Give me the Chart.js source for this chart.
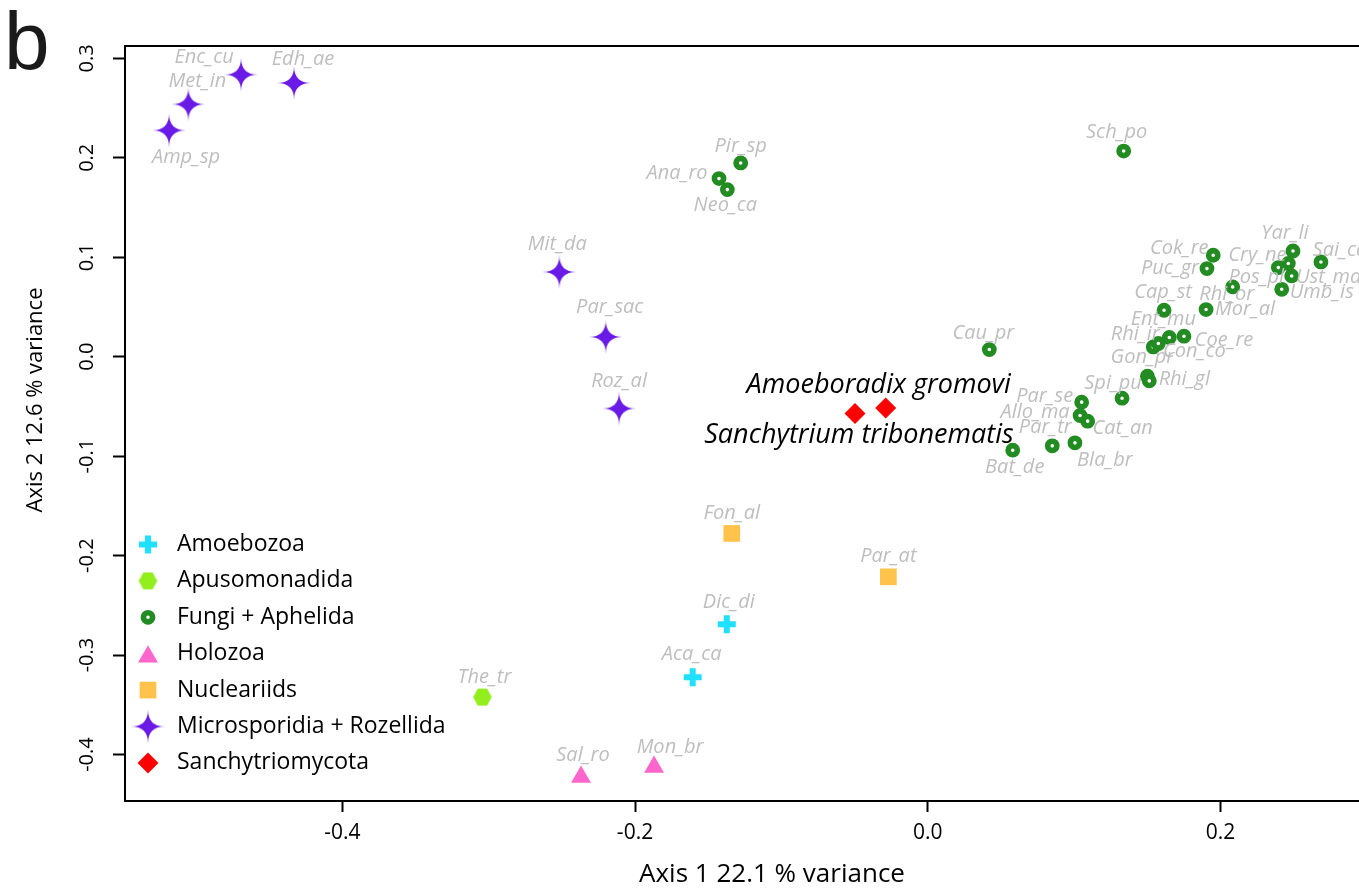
<!DOCTYPE html>
<html><head><meta charset="utf-8">
<script src="https://cdn.jsdelivr.net/npm/chart.js@4/dist/chart.umd.min.js"></script>
<style>
html,body{margin:0;padding:0;background:#fff;overflow:hidden;width:1359px;height:890px}
#wrap{position:absolute;left:0;top:0;width:1440px;height:890px}
</style>
</head><body><div id="wrap"><canvas id="c" width="1440" height="890"></canvas></div>
<script>
// ---------- data ----------
const groupNames = ['Amoebozoa','Apusomonadida','Fungi + Aphelida','Holozoa','Nucleariids','Microsporidia + Rozellida','Sanchytriomycota'];

const amoebozoaNames = ['Dic_di','Aca_ca'];
const amoebozoaX = [-0.1373,-0.1606];
const amoebozoaY = [-0.2691,-0.3224];

const apusNames = ['The_tr'];
const apusX = [-0.3043];
const apusY = [-0.3422];

const fungiNames = ['Sch_po','Pir_sp','Ana_ro','Neo_ca','Yar_li','Sai_ca','Cry_ne','Pos_pl','Ust_ma','Umb_is','Cok_re','Puc_gr','Rhi_or','Cap_st','Mor_al','Ent_mu','Coe_re','Rhi_ir','Con_co','Gon_pr','Rhi_gl','Spi_pu','Cau_pr','Par_se','Allo_ma','Cat_an','Par_tr','Bla_br','Bat_de'];
const fungiX = [0.1339,-0.1278,-0.1426,-0.1369,0.2496,0.2687,0.2396,0.2464,0.2487,0.2419,0.1951,0.1908,0.2084,0.1615,0.1902,0.1651,0.1751,0.1541,0.1576,0.1501,0.1514,0.1328,0.0421,0.1052,0.1041,0.1093,0.0851,0.1006,0.0581];
const fungiY = [0.2068,0.1948,0.1791,0.1680,0.1063,0.0953,0.0896,0.0937,0.0812,0.0678,0.1020,0.0886,0.0702,0.0467,0.0474,0.0193,0.0206,0.0098,0.0133,-0.0196,-0.0243,-0.0417,0.0072,-0.0457,-0.0591,-0.0648,-0.0896,-0.0866,-0.0940];

const holozoaNames = ['Sal_ro','Mon_br'];
const holozoaX = [-0.2369,-0.1870];
const holozoaY = [-0.4226,-0.4126];

const nucleariidNames = ['Fon_al','Par_at'];
const nucleariidX = [-0.1339,-0.0269];
const nucleariidY = [-0.1777,-0.2213];

const microNames = ['Amp_sp','Met_in','Enc_cu','Edh_ae','Mit_da','Par_sac','Roz_al'];
const microX = [-0.5184,-0.5052,-0.4692,-0.4330,-0.2517,-0.2200,-0.2109];
const microY = [0.2276,0.2538,0.2836,0.2752,0.0852,0.0199,-0.0521];

const sanchNames = ['Amoeboradix gromovi','Sanchytrium tribonematis'];
const sanchX = [-0.0287,-0.0497];
const sanchY = [-0.0515,-0.0571];

const xTicks = [-0.4,-0.2,0.0,0.2];
const yTicks = [-0.4,-0.3,-0.2,-0.1,0.0,0.1,0.2,0.3];
const xTitle = 'Axis 1 22.1 % variance';
const yTitle = 'Axis 2 12.6 % variance';

// ---------- label layout (pixel offsets of each text from its point) ----------
const labelOffsets = {
  'Dic_di':[2,-22],'Aca_ca':[-1,-23],'The_tr':[2,-20],
  'Sch_po':[-7,-19],'Pir_sp':[0,-17],'Ana_ro':[-42,-5],'Neo_ca':[-2,16],'Yar_li':[-8,-18],'Sai_ca':[19,-12],
  'Cry_ne':[-21,-12],'Pos_pl':[-32,14],'Ust_ma':[37,1],'Umb_is':[40,3],'Cok_re':[-34,-7],'Puc_gr':[-37,0],
  'Rhi_or':[-6,7],'Cap_st':[-1,-18],'Mor_al':[39,0],'Ent_mu':[-6,-18],'Coe_re':[40,4],'Rhi_ir':[-18,-13],
  'Con_co':[36,8],'Gon_pr':[-5,-19],'Rhi_gl':[35,-2],'Spi_pu':[-9,-15],'Cau_pr':[-6,-16],'Par_se':[-37,-6],
  'Allo_ma':[-45,-3],'Cat_an':[35,7],'Par_tr':[-7,-19],'Bla_br':[30,17],'Bat_de':[2,17],
  'Sal_ro':[2,-22],'Mon_br':[16,-20],'Fon_al':[0,-20],'Par_at':[0,-21],
  'Amp_sp':[17,27],'Met_in':[9,-23],'Enc_cu':[-37,-17],'Edh_ae':[9,-24],'Mit_da':[-2,-28],'Par_sac':[4,-30],'Roz_al':[0,-27],
  'Amoeboradix gromovi':[-7,-23],'Sanchytrium tribonematis':[4,22]
};

// ---------- marker images ----------
function makeStar(color, R){
  const s = Math.ceil(2*R+2), c = document.createElement('canvas');
  c.width = c.height = s;
  const g = c.getContext('2d');
  g.translate(s/2, s/2);
  g.beginPath();
  g.moveTo(0,-R);
  [[R,0],[0,R],[-R,0],[0,-R]].forEach(t => g.quadraticCurveTo(0,0,t[0],t[1]));
  g.closePath();
  g.fillStyle = color; g.fill();
  g.beginPath(); g.moveTo(0,-R*0.5);
  [[R*0.5,0],[0,R*0.5],[-R*0.5,0],[0,-R*0.5]].forEach(t=>g.quadraticCurveTo(0,0,t[0],t[1]));
  g.fill();
  return c;
}
function makeHex(color, R){
  const s = Math.ceil(2*R+2), c = document.createElement('canvas');
  c.width = c.height = s;
  const g = c.getContext('2d');
  g.translate(s/2, s/2);
  g.beginPath();
  for (let k=0;k<6;k++){ const a = k*Math.PI/3; g.lineTo(R*Math.cos(a), R*Math.sin(a)*1.05); }
  g.closePath(); g.fillStyle = color; g.fill();
  return c;
}
const starImg = makeStar('#6a1be6', 17);
const hexImg = makeHex('#93ee1e', 9.3);

function pts(xs, ys){ return xs.map((x,i)=>({x:x, y:ys[i]})); }

const datasets = [
  {label:groupNames[0], names:amoebozoaNames, data:pts(amoebozoaX,amoebozoaY), pointStyle:'cross', pointRadius:9, pointBorderWidth:6, borderColor:'#1fe0ff', backgroundColor:'#1fe0ff'},
  {label:groupNames[1], names:apusNames, data:pts(apusX,apusY), pointStyle:hexImg, pointRadius:9, backgroundColor:'#93ee1e', borderColor:'#93ee1e'},
  {label:groupNames[2], names:fungiNames, data:pts(fungiX,fungiY), pointStyle:'circle', pointRadius:4.6, pointBorderWidth:5.6, borderColor:'#228b22', backgroundColor:'#ffffff'},
  {label:groupNames[3], names:holozoaNames, data:pts(holozoaX,holozoaY), pointStyle:'triangle', pointRadius:11.5, pointBorderWidth:0, borderColor:'#ff66cc', backgroundColor:'#ff66cc'},
  {label:groupNames[4], names:nucleariidNames, data:pts(nucleariidX,nucleariidY), pointStyle:'rect', pointRadius:11.8, pointBorderWidth:0, borderColor:'#ffc24b', backgroundColor:'#ffc24b'},
  {label:groupNames[5], names:microNames, data:pts(microX,microY), pointStyle:starImg, pointRadius:17, backgroundColor:'#6a1be6', borderColor:'#6a1be6'},
  {label:groupNames[6], names:sanchNames, data:pts(sanchX,sanchY), pointStyle:'rectRot', pointRadius:10.5, pointBorderWidth:0, borderColor:'#ff0000', backgroundColor:'#ff0000', big:true}
];

function fmt(v){ return Math.abs(v) < 1e-9 ? '0.0' : v.toFixed(1); }

// ---------- plugins ----------
const boxPlugin = {
  id:'box',
  beforeDatasetsDraw(chart){
    const {ctx, chartArea:a} = chart;
    ctx.save(); ctx.strokeStyle='#000'; ctx.lineWidth=2;
    ctx.strokeRect(a.left, a.top, a.right-a.left, a.bottom-a.top);
    ctx.restore();
  }
};
const yAxisTextPlugin = {
  id:'yAxisText',
  afterDraw(chart){
    const {ctx} = chart, s = chart.scales.y;
    ctx.save();
    ctx.fillStyle='#000'; ctx.font='20px "Open Sans"'; ctx.textAlign='center'; ctx.textBaseline='middle';
    s.ticks.forEach(t=>{
      const py = s.getPixelForValue(t.value);
      ctx.save(); ctx.translate(87, py); ctx.rotate(-Math.PI/2); ctx.fillText(fmt(t.value),0,0); ctx.restore();
    });
    // axis title
    ctx.font='22px "Open Sans"';
    ctx.save(); ctx.translate(36, 400); ctx.rotate(-Math.PI/2); ctx.fillText(yTitle,0,0); ctx.restore();
    ctx.restore();
  }
};
const pointLabelPlugin = {
  id:'pointLabels',
  afterDatasetsDraw(chart){
    const ctx = chart.ctx;
    ctx.save(); ctx.textAlign='center'; ctx.textBaseline='middle';
    chart.data.datasets.forEach((ds, di)=>{
      const meta = chart.getDatasetMeta(di);
      meta.data.forEach((el, i)=>{
        const name = ds.names[i], off = labelOffsets[name] || [0,-20];
        if (ds.big){ ctx.fillStyle='#000'; ctx.font='italic 27px "Open Sans"'; }
        else { ctx.fillStyle='#bebebe'; ctx.font='italic 20px "Open Sans"'; }
        ctx.fillText(name, el.x+off[0], el.y+off[1]);
      });
    });
    ctx.restore();
  }
};
const legendPlugin = {
  id:'customLegend',
  afterDraw(chart){
    const ctx = chart.ctx;
    const x0 = 148, textX = 177, y0 = 544.5, dy = 36.4;
    ctx.save();
    chart.data.datasets.forEach((ds, i)=>{
      const y = y0 + i*dy;
      ctx.save();
      ctx.fillStyle = ds.backgroundColor; ctx.strokeStyle = ds.borderColor;
      ctx.lineWidth = ds.pointBorderWidth || 0;
      Chart.helpers.drawPoint(ctx, {pointStyle:ds.pointStyle, radius:ds.pointRadius, rotation:0, borderWidth:ds.pointBorderWidth||0}, x0, ds.pointStyle==='triangle'? y+3 : y);
      ctx.restore();
      ctx.fillStyle='#000'; ctx.font='23px "Open Sans"'; ctx.textAlign='left'; ctx.textBaseline='middle';
      ctx.fillText(ds.label, textX, y);
    });
    ctx.restore();
  }
};
const panelPlugin = {
  id:'panel',
  afterDraw(chart){
    const ctx = chart.ctx;
    ctx.save(); ctx.fillStyle='#1a1a1a'; ctx.font='82px "Liberation Sans"'; ctx.textAlign='left'; ctx.textBaseline='alphabetic';
    ctx.fillText('b', 4, 69); ctx.restore();
  }
};

new Chart(document.getElementById('c'), {
  type:'scatter',
  data:{datasets:datasets},
  options:{
    responsive:false, animation:false,
    layout:{padding:{top:46, right:21, left:0, bottom:0}},
    plugins:{legend:{display:false}, tooltip:{enabled:false}},
    scales:{
      x:{
        type:'linear', min:-0.5485, max:0.3357,
        afterBuildTicks:s=>{ s.ticks = xTicks.map(v=>({value:v})); },
        afterFit:s=>{ s.height = 89; },
        grid:{display:true, drawOnChartArea:false, drawTicks:true, tickLength:11, tickWidth:2, tickColor:'#000'},
        border:{display:false},
        ticks:{color:'#000', font:{family:'Open Sans', size:21}, padding:8, autoSkip:false, maxRotation:0, minRotation:0, callback:v=>fmt(v)},
        title:{display:true, text:xTitle, color:'#000', font:{family:'Open Sans', size:26}, padding:{top:0,bottom:0}}
      },
      y:{
        type:'linear', min:-0.4467, max:0.3124,
        afterBuildTicks:s=>{ s.ticks = yTicks.map(v=>({value:v})); },
        afterFit:s=>{ s.width = 125; },
        grid:{display:true, drawOnChartArea:false, drawTicks:true, tickLength:12, tickWidth:2, tickColor:'#000'},
        border:{display:false},
        ticks:{color:'rgba(0,0,0,0)', font:{family:'Open Sans', size:19}, autoSkip:false, callback:v=>fmt(v)},
        title:{display:false, text:yTitle}
      }
    }
  },
  plugins:[boxPlugin, pointLabelPlugin, yAxisTextPlugin, legendPlugin, panelPlugin]
});
</script></body></html>
